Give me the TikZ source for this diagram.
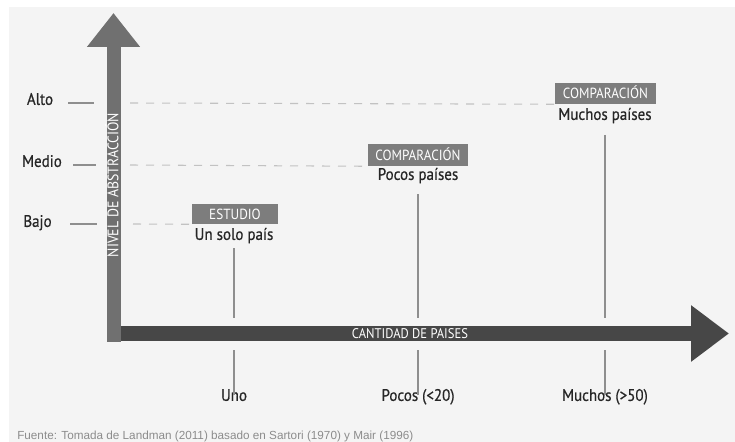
\documentclass[tikz,border=0pt]{standalone}
\usepackage{fontspec}
\setmainfont[FakeStretch=0.9]{PT Sans}
\newfontfamily\medfont[FakeStretch=0.9,BoldFont={PT Sans},BoldFeatures={FakeStretch=0.9,FakeBold=0.6}]{PT Sans}
\newfontfamily\srcfont{Liberation Sans}
\usetikzlibrary{arrows.meta}
\definecolor{panel}{HTML}{F4F4F4}
\definecolor{txt}{HTML}{262626}
\definecolor{vgray}{HTML}{707070}
\definecolor{hgray}{HTML}{474747}
\definecolor{taggray}{HTML}{7D7D7D}
\definecolor{guidegray}{HTML}{8E8E8E}
\definecolor{dashgray}{HTML}{C2C2C2}
\definecolor{srcgray}{HTML}{8C8C8C}

\begin{document}
\begin{tikzpicture}[x=0.75pt,y=-0.75pt]
\tikzstyle{level}=[font=\medfont\bfseries\fontsize{12.5}{14}\selectfont,text=txt,inner sep=0pt,text height=8.8pt,text depth=0pt]
\tikzstyle{tag}=[fill=taggray,text=white,font=\fontsize{11}{12}\selectfont,inner sep=0pt,text height=7.6pt,text depth=0pt]
\tikzstyle{axislabel}=[text=white,font=\fontsize{10.5}{12}\selectfont,inner sep=0pt,text height=7.3pt,text depth=0pt]
\tikzstyle{vaxis}=[draw=vgray,line width=10.5pt,-{Triangle[width=38.25pt,length=25.5pt]}]
\tikzstyle{haxis}=[draw=hgray,line width=11.25pt,-{Triangle[width=40.5pt,length=28.5pt]}]
\tikzstyle{guide}=[draw=guidegray,line width=0.8pt]
\tikzstyle{levelline}=[draw=guidegray,line width=1.1pt]
\tikzstyle{dashline}=[draw=dashgray,line width=0.8pt,dash pattern=on 6pt off 6pt]
% background
\fill[white] (0,0) rectangle (735,442);
\fill[panel] (9,7) rectangle (735,442);
\useasboundingbox (0,0) rectangle (735,442);
% axes
\coordinate (o) at (113.5,341.7);
\coordinate (ytip) at (113.5,13);
\coordinate (xo) at (120.7,333.5);
\coordinate (xtip) at (729,333.5);
\draw[vaxis] (o) -- (ytip);
\draw[haxis] (xo) -- (xtip);
\node[axislabel,rotate=90,font=\fontsize{11.5}{12}\selectfont] (ny) at (113.5,185) {NIVEL DE ABSTRACCIÓN};
\node[axislabel] (nx) at (410,333.5) {CANTIDAD DE PAISES};
% levels
\node[level] (alto) at (40,99) {Alto};
\node[level] (medio) at (42,161) {Medio};
\node[level] (bajo) at (37.5,221) {Bajo};
\coordinate (a1) at (68,103);
\coordinate (a2) at (94,103);
\coordinate (a3) at (130,103);
\coordinate (m1) at (73,165);
\coordinate (m2) at (96,165);
\coordinate (m3) at (130,165);
\coordinate (b1) at (70,224);
\coordinate (b2) at (97,224);
\coordinate (b3) at (133,224);
% tags
\node[tag,minimum width=64.5pt,minimum height=15pt] (e1) at (235,214) {ESTUDIO};
\node[level] (t1) at (234,234) {Un solo país};
\node[tag,minimum width=75pt,minimum height=16.5pt] (c2) at (418,155) {COMPARACIÓN};
\node[level] (t2) at (418,174) {Pocos países};
\node[tag,minimum width=75.75pt,minimum height=15.75pt] (c3) at (605.5,93.5) {COMPARACIÓN};
\node[level] (t3) at (605,114) {Muchos países};
\draw[levelline] (a1) -- (a2);
\draw[levelline] (m1) -- (m2);
\draw[levelline] (b1) -- (b2);
\draw[dashline] (a3) -- (c3.south west);
\draw[dashline] (m3) -- (c2.south west);
\draw[dashline] (b3) -- (e1.south west);
% columns
\coordinate (u1) at (234,248);
\coordinate (u2) at (234,318);
\coordinate (p1) at (418,194);
\coordinate (p2) at (418,318);
\coordinate (h1) at (605,135);
\coordinate (h2) at (605,318);
\draw[guide] (u1) -- (u2);
\draw[guide] (p1) -- (p2);
\draw[guide] (h1) -- (h2);
\node[level] (uno) at (234,395) {Uno};
\node[level] (pocos) at (418,395) {Pocos (<20)};
\node[level] (muchos) at (605,395) {Muchos (>50)};
\coordinate (k1) at (234,350);
\coordinate (k2) at (418,350);
\coordinate (k3) at (605,350);
\draw[guide] (k1) -- ([yshift=-1.5mm]uno.north);
\draw[guide] (k2) -- ([yshift=-1.5mm]pocos.north);
\draw[guide] (k3) -- ([yshift=-1.5mm]muchos.north);
% source
\node[anchor=base west,inner sep=0pt,text=srcgray,font=\srcfont\fontsize{8.8}{11}\selectfont] (src) at (17,439) {Fuente: Tomada de Landman (2011) basado en Sartori (1970) y Mair (1996)};
\end{tikzpicture}
\end{document}
